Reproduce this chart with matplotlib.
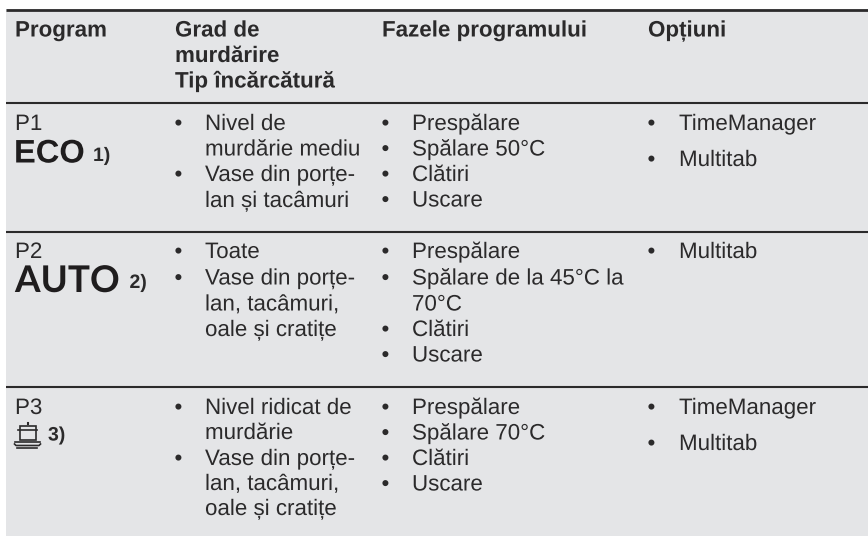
import matplotlib
matplotlib.use("Agg")
import matplotlib.pyplot as plt
import matplotlib.patheffects as pe
from matplotlib.patches import Rectangle

plt.rcParams['font.family'] = ['Liberation Sans', 'DejaVu Sans']
plt.rcParams['text.hinting'] = 'no_hinting'
plt.rcParams['text.hinting_factor'] = 1
# draws text as paths, keeps the baselines from jumping by a pixel
plt.rcParams['path.effects'] = [pe.Normal()]

dark = "#2b2a2b"
grey = "#e4e5e7"

headers = ["Program", "Grad de\nmurdărire\nTip încărcătură", "Fazele programului", "Opțiuni"]
programs = ["P1", "P2", "P3"]

grad_lines = [
    [("•", "Nivel de"), ("", "murdărie mediu"), ("•", "Vase din porțe-"), ("", "lan și tacâmuri")],
    [("•", "Toate"), ("•", "Vase din porțe-"), ("", "lan, tacâmuri,"), ("", "oale și cratițe")],
    [("•", "Nivel ridicat de"), ("", "murdărie"), ("•", "Vase din porțe-"), ("", "lan, tacâmuri,"), ("", "oale și cratițe")],
]
faze_lines = [
    [("•", "Prespălare"), ("•", "Spălare 50°C"), ("•", "Clătiri"), ("•", "Uscare")],
    [("•", "Prespălare"), ("•", "Spălare de la 45°C la"), ("", "70°C"), ("•", "Clătiri"), ("•", "Uscare")],
    [("•", "Prespălare"), ("•", "Spălare 70°C"), ("•", "Clătiri"), ("•", "Uscare")],
]
optiuni = [["TimeManager", "Multitab"], ["Multitab"], ["TimeManager", "Multitab"]]

# baselines in px
grad_y = [[130, 155.5, 181, 207], [258, 284.5, 310.5, 336], [414, 439, 465, 490, 515]]
faze_y = [[130, 155.5, 181, 206.5], [258, 284.5, 310.5, 336, 361.5], [414, 439.5, 465, 490.5]]
opt_y = [[130, 166], [258], [414, 450]]
rule_y = [9.5, 102.5, 231.5, 386.5]
head_x = [15, 175, 382, 648]
bullet_x = [174.5, 381.5, 647.5]
text_x = [205, 412, 679]
fs = 16.1

fig = plt.figure(figsize=(8.68, 5.36), dpi=100)
ax = fig.add_axes([0, 0, 1, 1])
ax.set_xlim(0, 868)
ax.set_ylim(536, 0)
ax.axis("off")

ax.add_patch(Rectangle((6, 9), 862, 527, color=grey, lw=0))
for i, y in enumerate(rule_y):
    ax.plot([6, 868], [y, y], color=dark, lw=2.0 if i == 0 else 1.5, solid_capstyle="butt")

for x, h in zip(head_x, headers):
    for k, line in enumerate(h.split("\n")):
        ax.text(x, [36.5, 62, 87.5][k], line, fontsize=fs, fontweight="bold", color=dark, va="baseline")

for p, y in zip(programs, [130, 258, 414]):
    ax.text(15, y, p, fontsize=fs, color=dark, va="baseline")

# program symbols
ax.text(14, 162.5, "ECO", fontsize=23.5, fontweight="bold", color="#1f1d1e", va="baseline")
ax.text(93, 161, "1)", fontsize=14, fontweight="bold", color=dark, va="baseline")
ax.text(15, 292, "AUTO", fontsize=26.5, fontweight="bold", family="Lato", color="#1f1d1e", va="baseline")
ax.text(129.5, 288, "2)", fontsize=14, fontweight="bold", color=dark, va="baseline")
ax.text(48, 440.5, "3)", fontsize=14, fontweight="bold", color=dark, va="baseline")

# pot on plates icon
ax.add_patch(Rectangle((20, 426), 15.5, 13.5, fill=False, ec=dark, lw=1.2))
ax.plot([18, 37], [429.5, 429.5], color=dark, lw=1.2)
ax.plot([27.5, 27.5], [422.5, 424], color=dark, lw=1.5)
ax.plot([15, 40], [441.5, 441.5], color=dark, lw=1.2)
ax.plot([14.5, 16, 39, 40.5], [444, 445.5, 445.5, 444], color=dark, lw=1.2)
ax.plot([17, 37], [448, 448], color=dark, lw=1.2)

for col, (lines, ys) in enumerate([(grad_lines, grad_y), (faze_lines, faze_y)]):
    for r in range(3):
        for (b, t), y in zip(lines[r], ys[r]):
            if b:
                ax.text(bullet_x[col], y, b, fontsize=fs, color=dark, va="baseline")
            ax.text(text_x[col], y, t, fontsize=fs, color=dark, va="baseline")

for r in range(3):
    for t, y in zip(optiuni[r], opt_y[r]):
        ax.text(bullet_x[2], y, "•", fontsize=fs, color=dark, va="baseline")
        ax.text(text_x[2], y, t, fontsize=fs, color=dark, va="baseline")

fig.savefig("out.png", dpi=100)
